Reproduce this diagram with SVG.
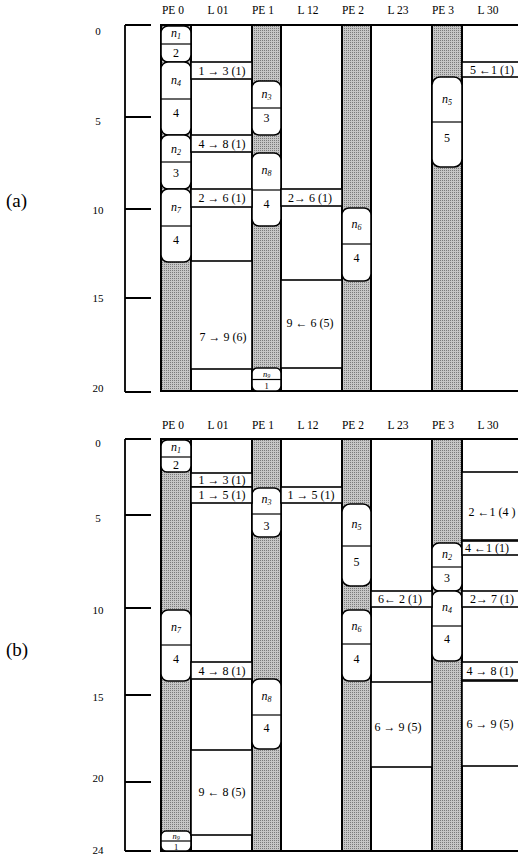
<svg xmlns="http://www.w3.org/2000/svg" width="518" height="856" viewBox="0 0 518 856">
<defs>
<pattern id="stip" width="2" height="2" patternUnits="userSpaceOnUse">
<rect width="2" height="2" fill="#c6c6c6"/>
<rect width="1" height="1" fill="#7a7a7a"/>
</pattern>
</defs>
<style>
.pe{fill:url(#stip);stroke:#000;stroke-width:2}
.task{fill:#fff;stroke:#000;stroke-width:1.6}
.msg{fill:#fff;stroke:#000;stroke-width:1.6}
.sep{stroke:#000;stroke-width:1.2}
.ln{stroke:#000;stroke-width:1.8;fill:none}
text{font-family:"Liberation Serif","Times New Roman",serif;fill:#000}
.hdr{font-size:11.5px;text-anchor:middle}
.lbl{font-size:12px;text-anchor:middle}
.tk{font-size:11px;text-anchor:middle}
.nm{font-style:italic}
.sub{font-size:8px;font-style:italic}
.sm{font-size:8.5px;text-anchor:middle}
.ssub{font-size:6px;font-style:italic}
.big{font-size:19px}
</style>

<!-- ================= (a) ================= -->
<g id="a-frame">
<text class="big" x="6" y="207">(a)</text>
<text class="hdr" x="173" y="14">PE 0</text>
<text class="hdr" x="218" y="14">L 01</text>
<text class="hdr" x="263" y="14">PE 1</text>
<text class="hdr" x="308" y="14">L 12</text>
<text class="hdr" x="353" y="14">PE 2</text>
<text class="hdr" x="398" y="14">L 23</text>
<text class="hdr" x="443" y="14">PE 3</text>
<text class="hdr" x="488" y="14">L 30</text>
<path class="ln" d="M125,25V392M125,25H151M125,117H151M125,209H151M125,298H151M125,392H151"/>
<text class="tk" x="98" y="35">0</text>
<text class="tk" x="98" y="125">5</text>
<text class="tk" x="98" y="214">10</text>
<text class="tk" x="98" y="302">15</text>
<text class="tk" x="98" y="392">20</text>
<rect class="pe" x="161" y="25" width="30" height="366"/>
<rect class="pe" x="252" y="25" width="29" height="366"/>
<rect class="pe" x="342" y="25" width="29" height="366"/>
<rect class="pe" x="432" y="25" width="30" height="366"/>
<path class="ln" d="M161,25H518M161,391H518"/>
</g>

<g id="a-n1"><rect class="task" x="161" y="26" width="30" height="36" rx="7"/><line class="sep" x1="161" y1="44" x2="191" y2="44"/><text class="lbl" x="176" y="37"><tspan class="nm">n</tspan><tspan class="sub" dy="2">1</tspan></text><text class="lbl" x="176" y="57">2</text></g>
<g id="a-n4"><rect class="task" x="161" y="62" width="30" height="73" rx="7"/><line class="sep" x1="161" y1="99" x2="191" y2="99"/><text class="lbl" x="176" y="84"><tspan class="nm">n</tspan><tspan class="sub" dy="2">4</tspan></text><text class="lbl" x="176" y="117">4</text></g>
<g id="a-n2"><rect class="task" x="161" y="135" width="30" height="54" rx="7"/><line class="sep" x1="161" y1="162" x2="191" y2="162"/><text class="lbl" x="176" y="153"><tspan class="nm">n</tspan><tspan class="sub" dy="2">2</tspan></text><text class="lbl" x="176" y="177">3</text></g>
<g id="a-n7"><rect class="task" x="161" y="189" width="30" height="73" rx="7"/><line class="sep" x1="161" y1="226" x2="191" y2="226"/><text class="lbl" x="176" y="211"><tspan class="nm">n</tspan><tspan class="sub" dy="2">7</tspan></text><text class="lbl" x="176" y="244">4</text></g>
<g id="a-n3"><rect class="task" x="252" y="81" width="29" height="54" rx="7"/><line class="sep" x1="252" y1="108" x2="281" y2="108"/><text class="lbl" x="266.5" y="98"><tspan class="nm">n</tspan><tspan class="sub" dy="2">3</tspan></text><text class="lbl" x="266.5" y="122">3</text></g>
<g id="a-n8"><rect class="task" x="252" y="153" width="29" height="73" rx="7"/><line class="sep" x1="252" y1="190" x2="281" y2="190"/><text class="lbl" x="266.5" y="174"><tspan class="nm">n</tspan><tspan class="sub" dy="2">8</tspan></text><text class="lbl" x="266.5" y="208">4</text></g>
<g id="a-n9"><rect class="task" x="252" y="368" width="29" height="23" rx="5"/><line class="sep" x1="252" y1="379.5" x2="281" y2="379.5"/><text class="sm" x="266.5" y="376.5"><tspan class="nm">n</tspan><tspan class="ssub" dy="1">9</tspan></text><text class="sm" x="266.5" y="389">1</text></g>
<g id="a-n6"><rect class="task" x="342" y="208" width="29" height="73" rx="7"/><line class="sep" x1="342" y1="244" x2="371" y2="244"/><text class="lbl" x="356.5" y="228"><tspan class="nm">n</tspan><tspan class="sub" dy="2">6</tspan></text><text class="lbl" x="356.5" y="262">4</text></g>
<g id="a-n5"><rect class="task" x="432" y="77" width="30" height="90" rx="8"/><line class="sep" x1="432" y1="122" x2="462" y2="122"/><text class="lbl" x="447" y="103"><tspan class="nm">n</tspan><tspan class="sub" dy="2">5</tspan></text><text class="lbl" x="447" y="142">5</text></g>

<g id="a-msgs">
<g id="a-m13"><rect class="msg" x="191" y="62" width="61" height="17"/><text class="lbl" x="222" y="75">1 → 3 (1)</text></g>
<g id="a-m48"><rect class="msg" x="191" y="135" width="61" height="17"/><text class="lbl" x="222" y="148">4 → 8 (1)</text></g>
<g id="a-m26a"><rect class="msg" x="191" y="189" width="61" height="18"/><text class="lbl" x="222" y="202">2 → 6 (1)</text></g>
<g id="a-m79"><rect class="msg" x="191" y="261" width="61" height="108"/><text class="lbl" x="223" y="341">7 → 9 (6)</text></g>
<g id="a-m26b"><rect class="msg" x="281" y="189" width="61" height="17"/><text class="lbl" x="310" y="202">2→ 6 (1)</text></g>
<g id="a-m96"><rect class="msg" x="281" y="280" width="61" height="88"/><text class="lbl" x="310" y="327">9 ← 6 (5)</text></g>
<g id="a-m51"><rect class="msg" x="462" y="62" width="58" height="15"/><text class="lbl" x="492" y="74">5 ←1 (1)</text></g>
</g>

<!-- ================= (b) ================= -->
<g id="b-frame">
<text class="big" x="6" y="656">(b)</text>
<text class="hdr" x="173" y="429">PE 0</text>
<text class="hdr" x="218" y="429">L 01</text>
<text class="hdr" x="263" y="429">PE 1</text>
<text class="hdr" x="308" y="429">L 12</text>
<text class="hdr" x="353" y="429">PE 2</text>
<text class="hdr" x="398" y="429">L 23</text>
<text class="hdr" x="443" y="429">PE 3</text>
<text class="hdr" x="488" y="429">L 30</text>
<path class="ln" d="M125,439V851M125,439H151M125,515H151M125,608H151M125,695H151M125,782H151M125,851H151"/>
<text class="tk" x="98" y="447">0</text>
<text class="tk" x="98" y="522">5</text>
<text class="tk" x="98" y="614">10</text>
<text class="tk" x="98" y="701">15</text>
<text class="tk" x="98" y="782">20</text>
<text class="tk" x="98" y="854" font-size="10">24</text>
<rect class="pe" x="161" y="439" width="30" height="412"/>
<rect class="pe" x="252" y="439" width="29" height="412"/>
<rect class="pe" x="342" y="439" width="29" height="412"/>
<rect class="pe" x="432" y="439" width="30" height="412"/>
<path class="ln" d="M161,439H518M161,851H518"/>
</g>

<g id="b-n1"><rect class="task" x="161" y="440" width="30" height="32" rx="6"/><line class="sep" x1="161" y1="457" x2="191" y2="457"/><text class="lbl" x="176" y="451"><tspan class="nm">n</tspan><tspan class="sub" dy="2">1</tspan></text><text class="lbl" x="176" y="469">2</text></g>
<g id="b-n7"><rect class="task" x="161" y="610" width="30" height="71" rx="7"/><line class="sep" x1="161" y1="645" x2="191" y2="645"/><text class="lbl" x="176" y="631"><tspan class="nm">n</tspan><tspan class="sub" dy="2">7</tspan></text><text class="lbl" x="176" y="663">4</text></g>
<g id="b-n9"><rect class="task" x="161" y="831" width="30" height="20" rx="5"/><line class="sep" x1="161" y1="841" x2="191" y2="841"/><text class="sm" x="176" y="838.5" font-size="8"><tspan class="nm">n</tspan><tspan class="ssub" dy="1">9</tspan></text><text class="sm" x="176" y="849.5" font-size="8">1</text></g>
<g id="b-n3"><rect class="task" x="252" y="488" width="29" height="49" rx="7"/><line class="sep" x1="252" y1="514" x2="281" y2="514"/><text class="lbl" x="266.5" y="503"><tspan class="nm">n</tspan><tspan class="sub" dy="2">3</tspan></text><text class="lbl" x="266.5" y="530">3</text></g>
<g id="b-n8"><rect class="task" x="252" y="679" width="29" height="70" rx="7"/><line class="sep" x1="252" y1="715" x2="281" y2="715"/><text class="lbl" x="266.5" y="700"><tspan class="nm">n</tspan><tspan class="sub" dy="2">8</tspan></text><text class="lbl" x="266.5" y="732">4</text></g>
<g id="b-n5"><rect class="task" x="342" y="504" width="29" height="82" rx="8"/><line class="sep" x1="342" y1="546" x2="371" y2="546"/><text class="lbl" x="356.5" y="528"><tspan class="nm">n</tspan><tspan class="sub" dy="2">5</tspan></text><text class="lbl" x="356.5" y="566">5</text></g>
<g id="b-n6"><rect class="task" x="342" y="610" width="29" height="71" rx="7"/><line class="sep" x1="342" y1="644" x2="371" y2="644"/><text class="lbl" x="356.5" y="630"><tspan class="nm">n</tspan><tspan class="sub" dy="2">6</tspan></text><text class="lbl" x="356.5" y="663">4</text></g>
<g id="b-n2"><rect class="task" x="432" y="543" width="30" height="48" rx="7"/><line class="sep" x1="432" y1="567" x2="462" y2="567"/><text class="lbl" x="447" y="558"><tspan class="nm">n</tspan><tspan class="sub" dy="2">2</tspan></text><text class="lbl" x="447" y="582">3</text></g>
<g id="b-n4"><rect class="task" x="432" y="591" width="30" height="70" rx="7"/><line class="sep" x1="432" y1="626" x2="462" y2="626"/><text class="lbl" x="447" y="611"><tspan class="nm">n</tspan><tspan class="sub" dy="2">4</tspan></text><text class="lbl" x="447" y="643">4</text></g>

<g id="b-msgs">
<g id="b-m13"><rect class="msg" x="191" y="473" width="61" height="14"/><text class="lbl" x="222" y="484">1 → 3 (1)</text></g>
<g id="b-m15a"><rect class="msg" x="191" y="487" width="61" height="16"/><text class="lbl" x="222" y="499">1 → 5 (1)</text></g>
<g id="b-m48a"><rect class="msg" x="191" y="662" width="61" height="17"/><text class="lbl" x="222" y="675">4 → 8 (1)</text></g>
<g id="b-m98"><rect class="msg" x="191" y="750" width="61" height="85"/><text class="lbl" x="222" y="796">9 ← 8 (5)</text></g>
<g id="b-m15b"><rect class="msg" x="281" y="487" width="61" height="16"/><text class="lbl" x="311" y="499">1 → 5 (1)</text></g>
<g id="b-m62"><rect class="msg" x="371" y="591" width="61" height="16"/><text class="lbl" x="400" y="603">6← 2 (1)</text></g>
<g id="b-m69a"><rect class="msg" x="371" y="682" width="61" height="85"/><text class="lbl" x="398" y="731">6 → 9 (5)</text></g>
<g id="b-m21"><rect class="msg" x="462" y="472" width="58" height="68"/><text class="lbl" x="492" y="516">2 ←1 (4 )</text></g>
<g id="b-m41"><rect class="msg" x="462" y="541" width="58" height="14"/><text class="lbl" x="487" y="552">4 ←1 (1)</text></g>
<g id="b-m27"><rect class="msg" x="462" y="591" width="58" height="16"/><text class="lbl" x="492" y="603">2→ 7 (1)</text></g>
<g id="b-m48b"><rect class="msg" x="462" y="662" width="58" height="18"/><text class="lbl" x="490" y="675">4 → 8 (1)</text></g>
<g id="b-m69b"><rect class="msg" x="462" y="681" width="58" height="85"/><text class="lbl" x="490" y="728">6 → 9 (5)</text></g>
</g>
</svg>
